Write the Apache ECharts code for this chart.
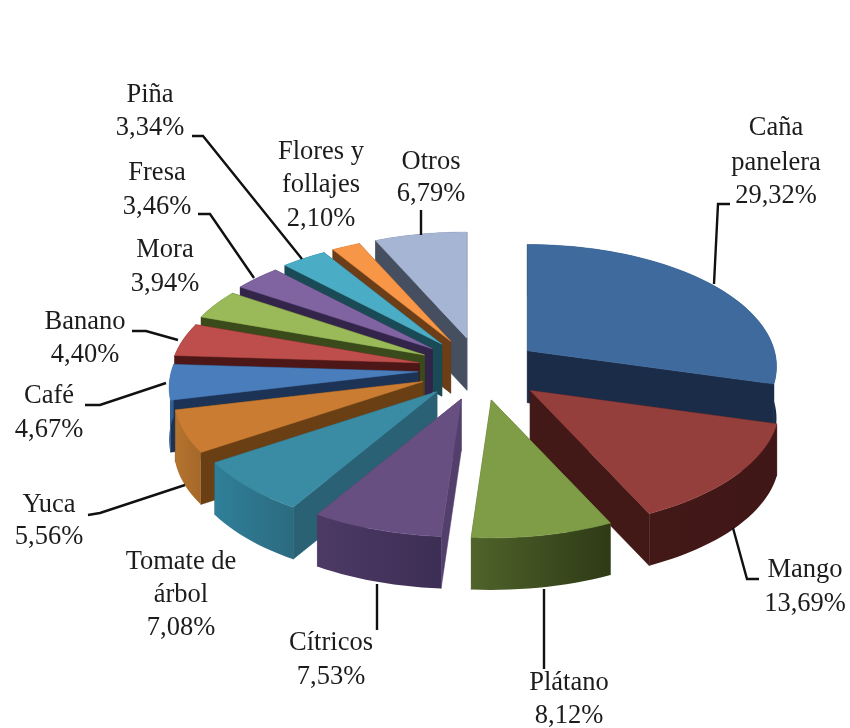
<!DOCTYPE html>
<html>
<head>
<meta charset="utf-8">
<style>html,body{margin:0;padding:0;background:#fff}#c{width:850px;height:728px}</style>
<script src="https://cdn.jsdelivr.net/npm/echarts@6/dist/echarts.min.js"></script>
</head>
<body>
<div id="c"></div>
<script>
// Data, clockwise from 12 o'clock
const categories = ['Caña panelera','Mango','Plátano','Cítricos','Tomate de árbol','Yuca','Café','Banano','Mora','Fresa','Piña','Flores y follajes','Otros'];
const shares = [29.32,13.69,8.12,7.53,7.08,5.56,4.67,4.40,3.94,3.46,3.34,2.10,6.79];

// Styles
const topColors  = ['#3F6A9E','#953F3D','#7F9C46','#684F82','#3A8CA5','#CB7C33','#4A7DBB','#BE4E4B','#9ABA59','#8064A2','#4BACC6','#F79646','#A6B5D3'];
const sideColors = ['#1A2C47','#431918','#4C5F29','#533F6B','#2A6174','#6B3F14','#1D3355','#4C1716','#3B4A1A','#33254A','#1B4A57','#6B3E18','#464F60'];
const rimFrom    = ['#1A2C47','#431918','#4F632A','#4C3A64','#2F7F98','#B5742F','#2F5F96','#4C1716','#3B4A1A','#33254A','#1B4A57','#6B3E18','#464F60'];
const rimTo      = ['#1A2C47','#3F1716','#2E3A16','#3D2E55','#2C6B80','#A5682A','#2F5F96','#4C1716','#3B4A1A','#33254A','#1B4A57','#6B3E18','#464F60'];
const explode    = [0.96,1.06,1,1,1,1,1,1,1,1,1,1,1];

// Layout of the projected pie
const CX = 480, CY = 369, RX = 247, RY = 120, PERSP = 0.13, DEPTH = 52, EX = 62, EY = 31.5, FRONT = 170;
// Label layout: centre x and the y of each line; label line breaks; leader polylines
const labelLines = [['Caña','panelera'],['Mango'],['Plátano'],['Cítricos'],['Tomate de','árbol'],['Yuca'],['Café'],['Banano'],['Mora'],['Fresa'],['Piña'],['Flores y','follajes'],['Otros']];
const labelX = [776,805,569,331,181,49,49,85,165,157,150,321,431];
const labelY = [[128,163,196],[570,604],[683,716],[643,677],[562,595,628],[505,537],[396,430],[322,355],[250,284],[173,207],[95,128],[152,185,219],[162,194]];
const leaders = [
  [[714,284],[718,204],[730,204]],
  [[733,528],[747,579],[759,579]],
  [[544,589],[544,669]],
  [[377,584],[377,630]],
  null,
  [[185,485],[100,513],[88,515]],
  [[166,383],[100,405],[85,405]],
  [[178,340],[146,331],[132,331]],
  null,
  [[254,278],[210,214],[198,214]],
  [[302,259],[203,136],[192,136]],
  null,
  [[421,235],[421,210]]
];

const rad = d => d * Math.PI / 180;
const total = shares.reduce((a, b) => a + b, 0);
const starts = [];
shares.reduce((acc, v, i) => { starts[i] = acc; return acc + v / total * 360; }, 0);

function rimPoint(theta) {
  const u = Math.sin(rad(theta)), v = -Math.cos(rad(theta)), p = 1 / (1 - PERSP * v);
  return [RX * u * p, RY * v * p];
}

function renderSlice(params, api) {
  const i = params.dataIndex;
  const sweep = api.value(0) / total * 360;
  const a0 = starts[i], a1 = a0 + sweep, mid = a0 + sweep / 2;
  const ax = CX + explode[i] * EX * Math.sin(rad(mid)), ay = CY - explode[i] * EY * Math.cos(rad(mid));
  const rim = [];
  const steps = Math.max(6, Math.ceil(sweep / 2));
  for (let s = 0; s <= steps; s++) {
    const q = rimPoint(a0 + sweep * s / steps);
    rim.push([ax + q[0], ay + q[1]]);
  }
  const down = p => [p[0], p[1] + DEPTH];
  const first = rim[0], last = rim[rim.length - 1], apex = [ax, ay];
  // Paint back to front, nearest the viewer last
  let dist = Math.abs(mid - FRONT); if (dist > 180) dist = 360 - dist;
  const z = Math.round(400 - dist);
  const poly = (points, fill, extra) => ({
    type: 'polygon', shape: { points }, z2: z + (extra || 0), silent: true,
    style: { fill, stroke: typeof fill === 'string' ? fill : null, lineWidth: 0.5 }
  });
  return {
    type: 'group',
    children: [
      poly([apex, first, down(first), down(apex)], sideColors[i], 0),
      poly([apex, last, down(last), down(apex)], sideColors[i], 0),
      poly(rim.concat(rim.map(down).reverse()), {
        type: 'linear', x: 0, y: 0, x2: 1, y2: 0,
        colorStops: [{ offset: 0, color: rimFrom[i] }, { offset: 1, color: rimTo[i] }]
      }, 0.1),
      poly([apex].concat(rim), topColors[i], 0.2)
    ]
  };
}

function renderLabel(params, api) {
  const i = params.dataIndex;
  const pct = api.value(0).toFixed(2).replace('.', ',') + '%';
  const lines = labelLines[i].concat([pct]);
  const children = lines.map((t, k) => ({
    type: 'text', silent: true,
    style: {
      text: t, x: labelX[i], y: labelY[i][k], align: 'center', verticalAlign: 'middle',
      font: '26.5px "Liberation Serif", serif', fill: '#1c1c1c'
    }
  }));
  if (leaders[i]) {
    children.push({
      type: 'polyline', silent: true, shape: { points: leaders[i] },
      style: { stroke: '#111', lineWidth: 2.4, fill: null }
    });
  }
  return { type: 'group', children };
}

const seriesData = shares.map((v, i) => ({ name: categories[i], value: [v, i] }));
const chart = echarts.init(document.getElementById('c'), null, { renderer: 'canvas' });
chart.setOption({
  backgroundColor: '#fff',
  animation: false,
  series: [
    { type: 'custom', coordinateSystem: 'none', renderItem: renderSlice, data: seriesData, z: 2 },
    { type: 'custom', coordinateSystem: 'none', renderItem: renderLabel, data: seriesData, z: 3 }
  ]
});
</script>
</body>
</html>
